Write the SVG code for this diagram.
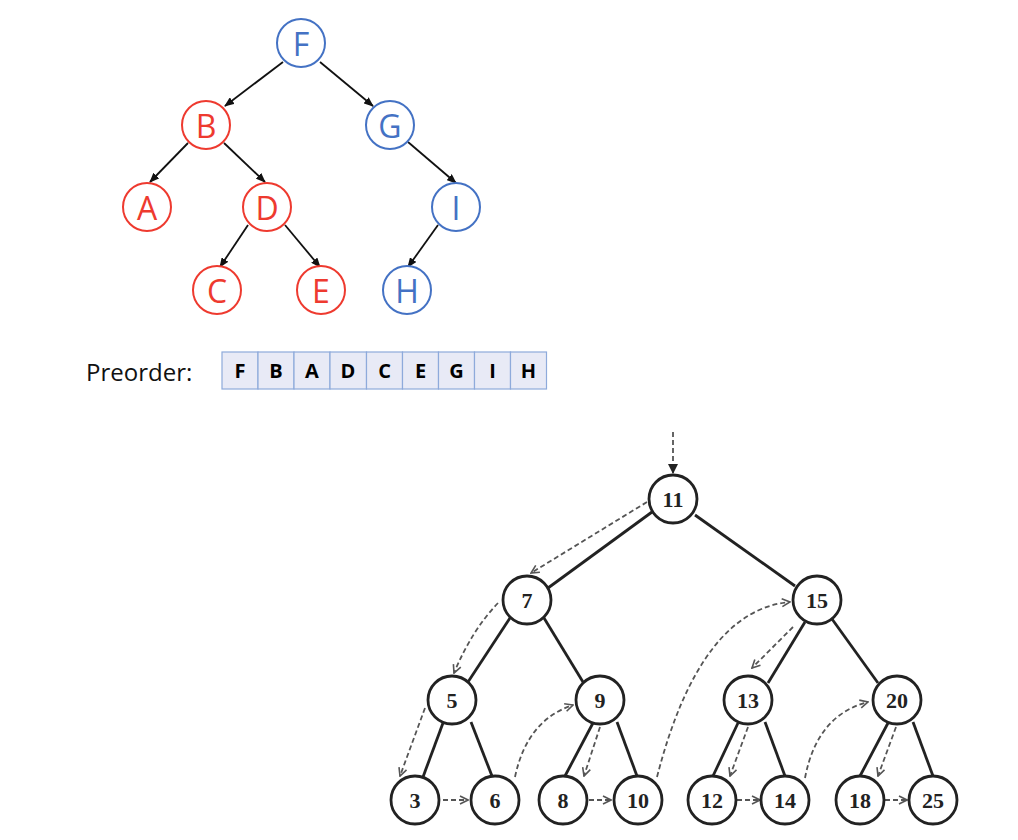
<svg xmlns="http://www.w3.org/2000/svg" width="1018" height="840" viewBox="0 0 1018 840">
<style>
.rn circle{fill:#fff;stroke:#ee3a2f;stroke-width:2}
.rn text{fill:#ee3a2f}
.bn circle{fill:#fff;stroke:#4472c4;stroke-width:2}
.bn text{fill:#4472c4}
.lt{font-family:"Open Sans","Liberation Sans",sans-serif;font-size:32px;text-anchor:middle;dominant-baseline:central}
.e1 line{stroke:#111;stroke-width:1.8;marker-end:url(#ah)}
.box rect{fill:#e8eaf6;stroke:#8eaadb;stroke-width:1.2}
.box text{font-family:"Open Sans","Liberation Sans",sans-serif;font-weight:bold;font-size:20px;text-anchor:middle;fill:#000}
.nn circle{fill:#fff;stroke:#222;stroke-width:2.8}
.nn text{font-family:"Liberation Serif","Times New Roman",serif;font-weight:bold;font-size:22px;text-anchor:middle;dominant-baseline:central;fill:#222}
.e2 line{stroke:#222;stroke-width:2.8}
.d path{fill:none;stroke:#555;stroke-width:1.8;stroke-dasharray:5 3;marker-end:url(#oh)}
</style>
<defs>
<marker id="ah" markerWidth="10" markerHeight="8" refX="9" refY="4" orient="auto" markerUnits="userSpaceOnUse">
<path d="M0,0 L10,4 L0,8 Z" fill="#111"/>
</marker>
<marker id="oh" markerWidth="10" markerHeight="10" refX="9" refY="5" orient="auto" markerUnits="userSpaceOnUse">
<path d="M1,1 L9,5 L1,9" fill="none" stroke="#555" stroke-width="1.6"/>
</marker>
<marker id="fh" markerWidth="10" markerHeight="10" refX="9" refY="5" orient="auto" markerUnits="userSpaceOnUse">
<path d="M0,0 L10,5 L0,10 Z" fill="#222"/>
</marker>
</defs>

<g id="top-edges" class="e1">
<line x1="283" y1="62" x2="225" y2="106"/>
<line x1="320" y1="62" x2="373" y2="106"/>
<line x1="188" y1="143" x2="150" y2="182"/>
<line x1="224" y1="143" x2="265" y2="182"/>
<line x1="408" y1="142" x2="456" y2="183"/>
<line x1="248" y1="225" x2="220" y2="267"/>
<line x1="285" y1="225" x2="320" y2="267"/>
<line x1="438" y1="225" x2="408" y2="267"/>
</g>

<g id="nF" class="bn"><circle cx="301" cy="43" r="24"/><text class="lt" x="301" y="43">F</text></g>
<g id="nB" class="rn"><circle cx="206" cy="125" r="24"/><text class="lt" x="206" y="125">B</text></g>
<g id="nG" class="bn"><circle cx="390" cy="125" r="24"/><text class="lt" x="390" y="125">G</text></g>
<g id="nA" class="rn"><circle cx="147" cy="207" r="24"/><text class="lt" x="147" y="207">A</text></g>
<g id="nD" class="rn"><circle cx="267" cy="207" r="24"/><text class="lt" x="267" y="207">D</text></g>
<g id="nI" class="bn"><circle cx="456" cy="207" r="24"/><text class="lt" x="456" y="207">I</text></g>
<g id="nC" class="rn"><circle cx="217" cy="290" r="24"/><text class="lt" x="217" y="290">C</text></g>
<g id="nE" class="rn"><circle cx="321" cy="290" r="24"/><text class="lt" x="321" y="290">E</text></g>
<g id="nH" class="bn"><circle cx="407" cy="290" r="24"/><text class="lt" x="407" y="290">H</text></g>

<g id="preorder">
<text x="86" y="381" font-family="'Open Sans','Liberation Sans',sans-serif" font-size="24" fill="#111">Preorder:</text>
<g class="box">
<rect x="222" y="352" width="36" height="37"/><text x="240" y="378">F</text>
<rect x="258" y="352" width="36" height="37"/><text x="276" y="378">B</text>
<rect x="294" y="352" width="36" height="37"/><text x="312" y="378">A</text>
<rect x="330" y="352" width="36.5" height="37"/><text x="348" y="378">D</text>
<rect x="366.5" y="352" width="36" height="37"/><text x="384.5" y="378">C</text>
<rect x="402.5" y="352" width="36" height="37"/><text x="420.5" y="378">E</text>
<rect x="438.5" y="352" width="36" height="37"/><text x="456.5" y="378">G</text>
<rect x="474.5" y="352" width="36" height="37"/><text x="492.5" y="378">I</text>
<rect x="510.5" y="352" width="36" height="37"/><text x="528.5" y="378">H</text>
</g>
</g>

<g id="bottom-edges" class="e2">
<line x1="652" y1="512" x2="548" y2="588"/>
<line x1="695" y1="515" x2="795" y2="586"/>
<line x1="510" y1="618" x2="468" y2="682"/>
<line x1="544" y1="618" x2="583" y2="682"/>
<line x1="443" y1="723" x2="423" y2="777"/>
<line x1="471" y1="722" x2="492" y2="776"/>
<line x1="593" y1="723" x2="565" y2="776"/>
<line x1="617" y1="722" x2="637" y2="776"/>
<line x1="805" y1="622" x2="768" y2="683"/>
<line x1="832" y1="619" x2="878" y2="683"/>
<line x1="738" y1="723" x2="713" y2="776"/>
<line x1="765" y1="722" x2="785" y2="776"/>
<line x1="888" y1="723" x2="860" y2="776"/>
<line x1="913" y1="722" x2="933" y2="776"/>
</g>

<g id="traversal" class="d">
<path d="M673,432 L673,473" stroke="#222" stroke-dasharray="2 3" style="marker-end:url(#fh)"/>
<path d="M647,502 L531,573"/>
<path d="M498,603 Q472,630 454,673"/>
<path d="M425,708 L400,776"/>
<path d="M443,800 L468,800"/>
<path d="M515,777 Q527,720 573,705"/>
<path d="M600,727 L584,776"/>
<path d="M589,800 L611,800"/>
<path d="M657,777 Q700,610 790,602"/>
<path d="M793,627 L752,668"/>
<path d="M748,727 L730,776"/>
<path d="M737,800 L760,800"/>
<path d="M805,778 Q817,715 868,702"/>
<path d="M896,727 L878,776"/>
<path d="M885,800 L907,800"/>
</g>

<g id="n11" class="nn"><circle cx="673" cy="499" r="24"/><text x="673" y="499">11</text></g>
<g id="n7" class="nn"><circle cx="527" cy="600" r="24"/><text x="527" y="600">7</text></g>
<g id="n15" class="nn"><circle cx="817" cy="600" r="24"/><text x="817" y="600">15</text></g>
<g id="n5" class="nn"><circle cx="452" cy="700" r="24"/><text x="452" y="700">5</text></g>
<g id="n9" class="nn"><circle cx="600" cy="700" r="24"/><text x="600" y="700">9</text></g>
<g id="n13" class="nn"><circle cx="748" cy="700" r="24"/><text x="748" y="700">13</text></g>
<g id="n20" class="nn"><circle cx="897" cy="700" r="24"/><text x="897" y="700">20</text></g>
<g id="n3" class="nn"><circle cx="415" cy="800" r="24"/><text x="415" y="800">3</text></g>
<g id="n6" class="nn"><circle cx="495" cy="800" r="24"/><text x="495" y="800">6</text></g>
<g id="n8" class="nn"><circle cx="563" cy="800" r="24"/><text x="563" y="800">8</text></g>
<g id="n10" class="nn"><circle cx="638" cy="800" r="24"/><text x="638" y="800">10</text></g>
<g id="n12" class="nn"><circle cx="712" cy="800" r="24"/><text x="712" y="800">12</text></g>
<g id="n14" class="nn"><circle cx="785" cy="800" r="24"/><text x="785" y="800">14</text></g>
<g id="n18" class="nn"><circle cx="860" cy="800" r="24"/><text x="860" y="800">18</text></g>
<g id="n25" class="nn"><circle cx="933" cy="800" r="24"/><text x="933" y="800">25</text></g>
</svg>
